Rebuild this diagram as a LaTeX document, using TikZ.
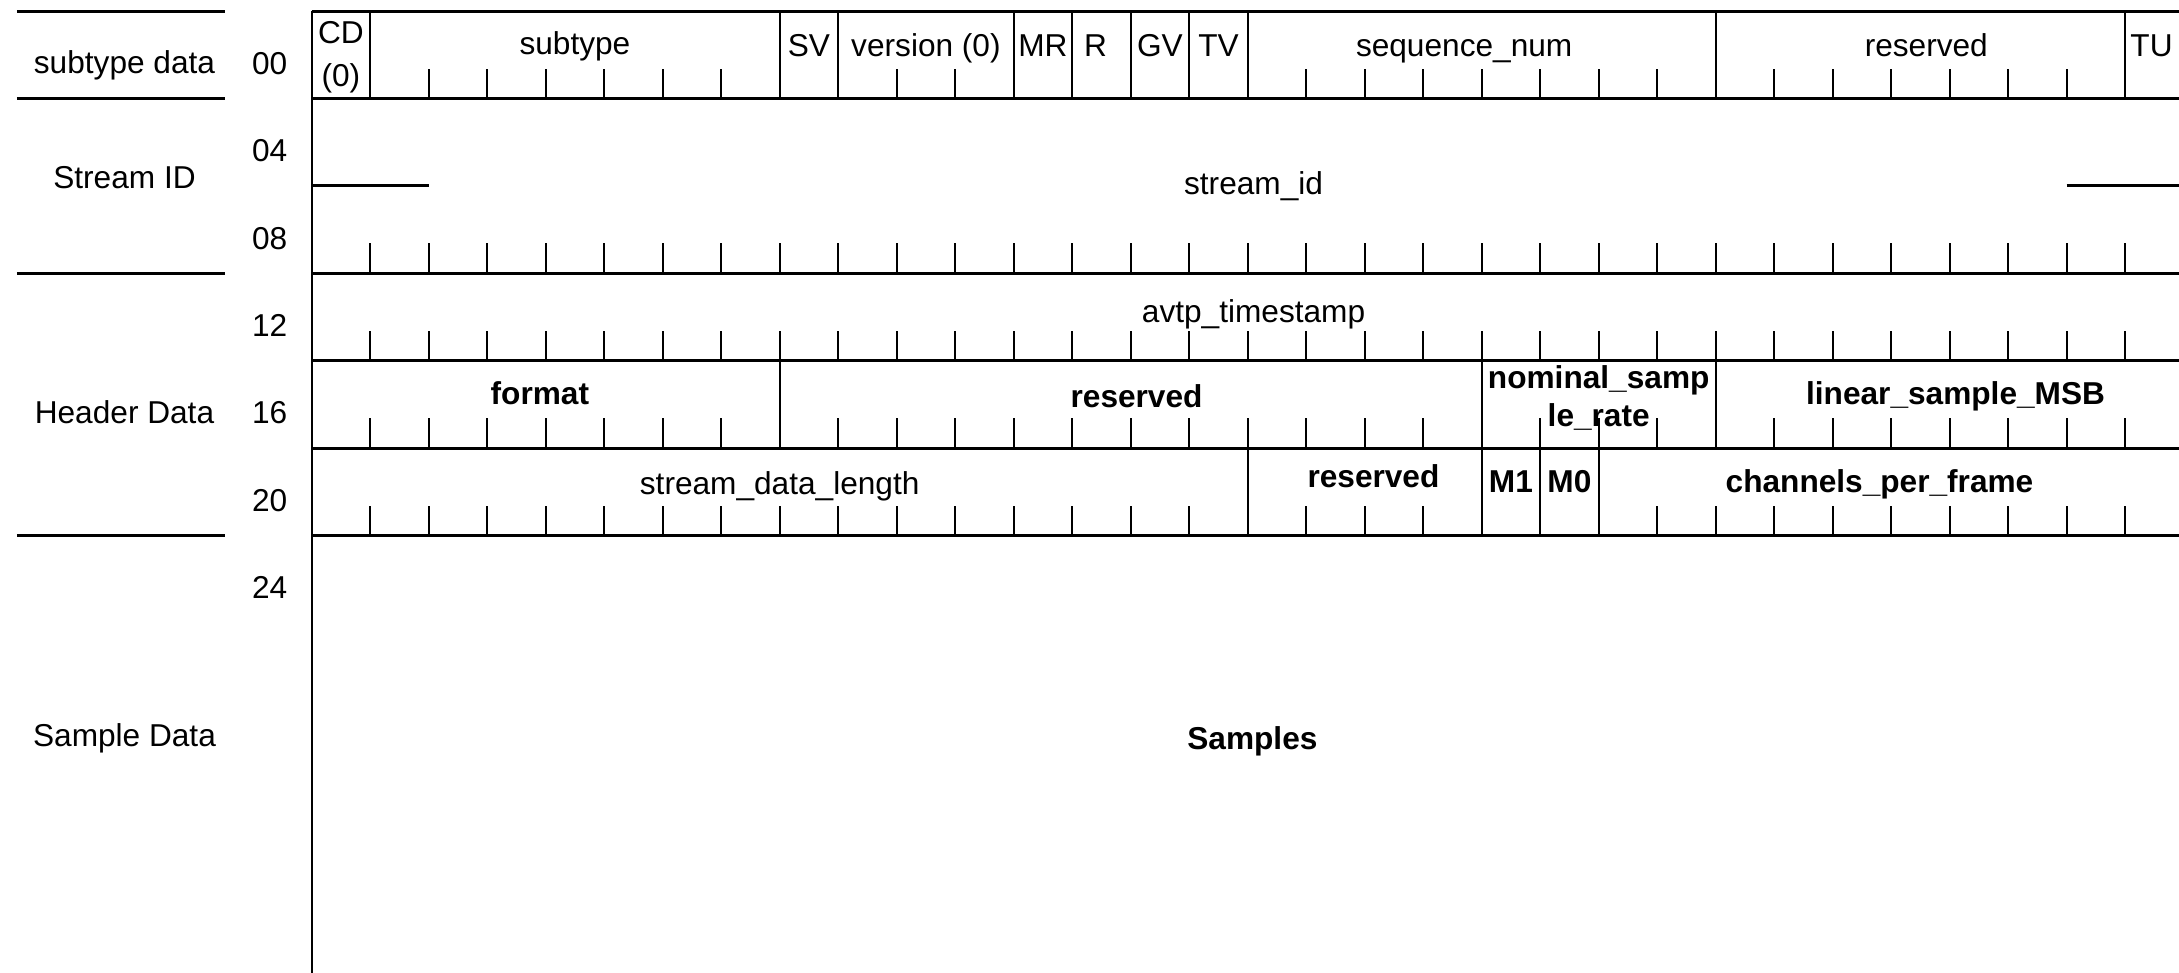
\documentclass[tikz,border=0pt]{standalone}
\usepackage{fontspec}
\setmainfont{Liberation Sans}
\usetikzlibrary{positioning}
\tikzset{
  hline/.style={line width=0.85pt},
  vline/.style={line width=0.65pt},
  bittick/.style={line width=0.65pt},
  fld/.style={inner sep=0pt,text height=0.72em,text depth=0pt},
  bfld/.style={fld,font=\fontsize{9}{11}\selectfont\bfseries},
  offs/.style={fld,anchor=east},
}

\begin{document}
\begin{tikzpicture}[x=5.85mm,y=-8.74mm,font=\fontsize{9}{11}\selectfont]
  \useasboundingbox (-3.117cm,0.11cm) rectangle (18.673cm,-9.61cm);
  % word boundaries
  \foreach \k in {0,1,3,4,5,6}
    \draw[hline] (0,\k) -- (32,\k);
  \draw[hline] (0,2) -- (2,2);
  \draw[hline] (30,2) -- (32,2);
  \draw[vline] (0,0) -- (0,11.2);
  \draw[vline] (32,0) -- (32,11.2);
  % bit ticks
  \foreach \r in {1,3,4,5,6}
    \foreach \b in {1,...,31}
      \draw[bittick] (\b,\r) -- (\b,\r-0.34);
  % field borders
  \foreach \b in {1,8,9,12,13,14,15,16,24,31}
    \draw[vline] (\b,0) -- (\b,1);
  \foreach \b in {8,20,24}
    \draw[vline] (\b,4) -- (\b,5);
  \foreach \b in {16,20,21,22}
    \draw[vline] (\b,5) -- (\b,6);
  % side rules
  \foreach \k in {0,1,3,6}
    \draw[hline] (-5.04,\k) -- (-1.48,\k);

  % row 00
  \node[fld] (cd)      at (0.5,0.23)  {CD};
  \node[fld] (cdz)     at (0.5,0.72)  {(0)};
  \node[fld] (subtype) at (4.5,0.35)  {subtype};
  \node[fld] (sv)      at (8.5,0.38)  {SV};
  \node[fld] (version) at (10.5,0.38) {version (0)};
  \node[fld] (mr)      at (12.5,0.38) {MR};
  \node[fld] (r)       at (13.4,0.38) {R};
  \node[fld] (gv)      at (14.5,0.38) {GV};
  \node[fld] (tv)      at (15.5,0.38) {TV};
  \node[fld] (seqnum)  at (19.7,0.38) {sequence\_num};
  \node[fld] (rsva)    at (27.6,0.38) {reserved};
  \node[fld] (tu)      at (31.45,0.38) {TU};
  % rows 04 to 12
  \node[fld] (streamid) at (16.1,1.96) {stream\_id};
  \node[fld] (avtpts)   at (16.1,3.42) {avtp\_timestamp};
  % row 16
  \node[bfld] (format) at (3.9,4.36)  {format};
  \node[bfld] (rsvb)   at (14.1,4.39) {reserved};
  \node[bfld] (nsra)   at (22,4.18)   {nominal\_samp};
  \node[bfld] (nsrb)   at (22,4.61)   {le\_rate};
  \node[bfld] (lsmsb)  at (28.1,4.36) {linear\_sample\_MSB};
  % row 20
  \node[fld]  (sdlen)  at (8,5.39)    {stream\_data\_length};
  \node[bfld] (rsvc)   at (18.15,5.31) {reserved};
  \node[bfld] (mone)   at (20.5,5.36) {M1};
  \node[bfld] (mzero)  at (21.5,5.36) {M0};
  \node[bfld] (cpf)    at (26.8,5.36) {channels\_per\_frame};
  % payload
  \node[bfld] (samples) at (16.08,8.31) {Samples};

  % left column
  \node[fld] (lblsub) at (-3.2,0.57) {subtype data};
  \node[fld] (lblsid) at (-3.2,1.89) {Stream ID};
  \node[fld] (lblhdr) at (-3.2,4.58) {Header Data};
  \node[fld] (lblsmp) at (-3.2,8.27) {Sample Data};
  \foreach \o [count=\k from 0] in {00,04,08,12,16,20,24}
    \node[offs] (o\o) at (-0.405,\k+0.58) {\o};
\end{tikzpicture}
\end{document}
